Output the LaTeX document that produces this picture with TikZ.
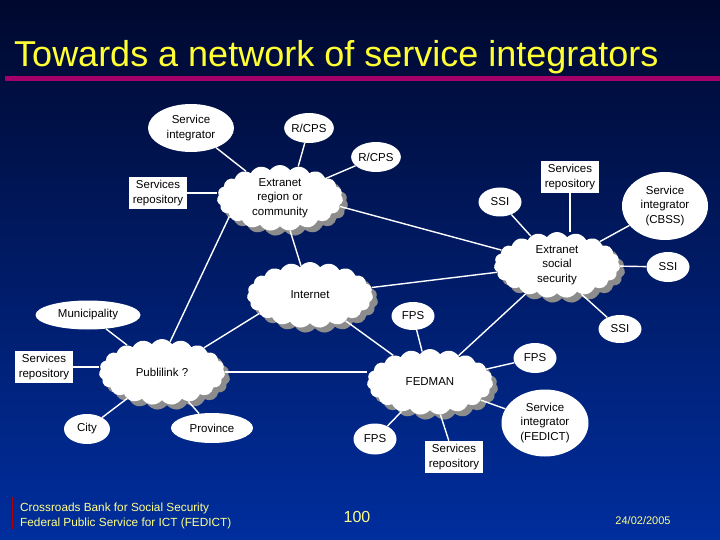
\documentclass[tikz,border=0pt]{standalone}
\usepackage{fontspec}
\setmainfont{Liberation Sans}
\usetikzlibrary{shapes.geometric,shapes.symbols,shadows}
\definecolor{bgtop}{RGB}{0,8,46}
\definecolor{bgmid}{RGB}{0,26,110}
\definecolor{bgbot}{RGB}{0,46,158}
\definecolor{ttl}{RGB}{255,255,51}
\definecolor{ftr}{RGB}{255,255,140}
\definecolor{bar}{RGB}{165,0,105}
\definecolor{shd}{RGB}{140,140,140}

\begin{document}
\begin{tikzpicture}[x=1pt,y=-1pt,
        cl/.style={cloud,cloud puffs=19,cloud puff arc=110,cloud ignores aspect,fill=white,
            align=center,inner sep=0pt,minimum width=126pt,minimum height=66pt,
            font=\fontsize{11.5}{14.5}\selectfont,
            drop shadow={shadow xshift=5pt,shadow yshift=-5pt,fill=shd,opacity=1}},
        ov/.style={ellipse,fill=white,align=center,inner sep=0pt,font=\fontsize{11.5}{14.5}\selectfont},
        bx/.style={rectangle,fill=white,align=center,inner sep=0pt,minimum width=58pt,
            minimum height=32pt,font=\fontsize{11.5}{14.5}\selectfont},
        sz/.style 2 args={minimum width=#1pt,minimum height=#2pt},
        ln/.style={draw=white,line width=1.4pt}
    ]

    % background and title
    \shade[top color=bgtop,middle color=bgmid,bottom color=bgbot] (0,0) rectangle (720,540);
    \useasboundingbox (0,0) rectangle (720,540);
    \node[anchor=base west,inner sep=0pt,text=ttl,font=\fontsize{36}{42}\selectfont] (title) at (14,67) {Towards a network of service integrators};
    \fill[bar] (5,76) rectangle (720,81);

    % clouds
    \node[cl] (extreg) at (280,198) {Extranet\\region or\\community};
    \node[cl] (extsoc) at (557,265) {Extranet\\social\\security};
    \node[cl] (internet) at (310,295) {Internet};
    \node[cl] (publi) at (162,372) {Publilink ?};
    \node[cl] (fedman) at (430,382) {FEDMAN};

    % services and repositories
    \node[ov,sz={86}{48}] (si1) at (191,128) {Service\\integrator};
    \node[ov,sz={43}{30}] (rcps1) at (309,128) {R/CPS};
    \node[ov,sz={42}{30}] (rcps2) at (376,157) {R/CPS};
    \node[bx] (repo1) at (158,193) {Services\\repository};
    \node[ov,sz={43}{29}] (ssi1) at (500,202) {SSI};
    \node[bx] (repo2) at (570,177) {Services\\repository};
    \node[ov,sz={86}{68}] (cbss) at (665,206) {Service\\integrator\\(CBSS)};
    \node[ov,sz={43}{30}] (ssi2) at (668,267) {SSI};
    \node[ov,sz={105}{29}] (muni) at (88,315) {Municipality};
    \node[bx] (repo3) at (44,367) {Services\\repository};
    \node[ov,sz={46}{30}] (city) at (87,429) {City};
    \node[ov,sz={82}{30}] (prov) at (212,428) {Province};
    \node[ov,sz={43}{28}] (fps1) at (413,316) {FPS};
    \node[ov,sz={43}{28}] (ssi3) at (620,329) {SSI};
    \node[ov,sz={43}{30}] (fps2) at (535,358) {FPS};
    \node[ov,sz={87}{67}] (fedict) at (545,423) {Service\\integrator\\(FEDICT)};
    \node[ov,sz={43}{31}] (fps3) at (375,439) {FPS};
    \node[bx] (repo4) at (454,457) {Services\\repository};

    \draw[ln]
        (si1) edge (extreg)
        (rcps1) edge (extreg.60)
        (rcps2) edge (extreg)
        (repo1.east) edge (repo1.east -| extreg.west)
        (extreg.200) edge (publi.75)
        (extreg) edge (internet)
        (extreg.-8) edge (extsoc.165)
        (internet) edge (extsoc)
        (internet.200) edge (publi.30)
        (internet) edge (fedman)
        (fedman) edge (extsoc)
        (extsoc.-50) edge (ssi3)
        (extsoc) edge (ssi1)
        (repo2.south) edge (repo2.south |- extsoc.north)
        (extsoc) edge (cbss)
        (extsoc) edge (ssi2)
        (muni) edge (publi)
        (repo3.east) edge (repo3.east -| publi.west)
        (city) edge (publi)
        (prov) edge (publi)
        (publi.east) edge (publi.east -| fedman.west)
        (fps1) edge (fedman)
        (fps2) edge (fedman)
        (fedict) edge (fedman)
        (fps3) edge (fedman)
        (repo4) edge (fedman)
        ;

    % footer
    \draw[red!70!black,line width=0.8pt] (12,497) -- (12,529);
    \node[anchor=west,align=left,inner sep=0pt,text=ftr,font=\fontsize{11.8}{15}\selectfont] (org) at (20,516) {Crossroads Bank for Social Security\\Federal Public Service for ICT (FEDICT)};
    \node[text=ftr,font=\fontsize{16}{18}\selectfont] (page) at (357,517) {100};
    \node[text=ftr,font=\fontsize{11}{13}\selectfont] (date) at (643,521) {24/02/2005};

\end{tikzpicture}
\end{document}
